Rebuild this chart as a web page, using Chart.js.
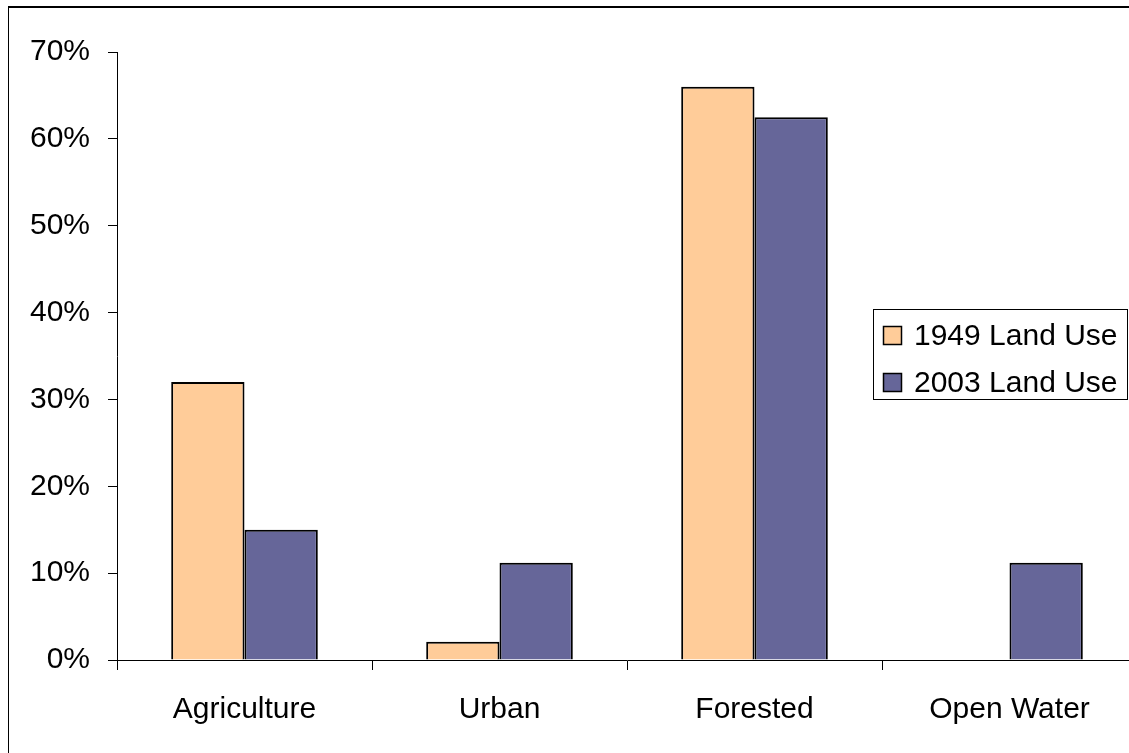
<!DOCTYPE html>
<html>
<head>
<meta charset="utf-8">
<title>Land Use 1949 vs 2003</title>
<script src="https://cdn.jsdelivr.net/npm/chart.js@4.4.1/dist/chart.umd.min.js"></script>
<style>
  html, body { margin: 0; padding: 0; background: #fff; overflow: hidden; }
  #wrap { position: relative; width: 1160px; height: 753px; }
</style>
</head>
<body>
<div id="wrap"><canvas id="chart" width="1160" height="753"></canvas></div>
<script>
// Land use shares by category (percent of total area)
const categories = ['Agriculture', 'Urban', 'Forested', 'Open Water'];
const landUse1949 = [32.0, 2.1, 66.0, 0];
const landUse2003 = [15.0, 11.2, 62.5, 11.2];
const seriesNames = ['1949 Land Use', '2003 Land Use'];
const yTicks = [0, 10, 20, 30, 40, 50, 60, 70];

const FONT = '"Liberation Sans", Arial, sans-serif';
const FONT_SIZE = 30;

// Outer frame around the whole figure
const framePlugin = {
  id: 'frame',
  beforeDraw(chart) {
    const ctx = chart.ctx;
    ctx.save();
    ctx.strokeStyle = '#000';
    ctx.lineWidth = 2;
    ctx.beginPath();
    ctx.moveTo(8, 7);
    ctx.lineTo(chart.width + 5, 7);
    ctx.stroke();
    ctx.lineWidth = 1;
    ctx.beginPath();
    ctx.moveTo(8.5, 6);
    ctx.lineTo(8.5, chart.height + 5);
    ctx.stroke();
    ctx.restore();
  }
};

// Boxed legend drawn from the dataset labels and colours
const boxLegendPlugin = {
  id: 'boxLegend',
  afterDraw(chart) {
    const ctx = chart.ctx;
    const box = { x: 873, y: 309, w: 254, h: 90 };
    ctx.save();
    ctx.fillStyle = '#fff';
    ctx.fillRect(box.x, box.y, box.w, box.h);
    ctx.strokeStyle = '#000';
    ctx.lineWidth = 1;
    ctx.strokeRect(box.x + 0.5, box.y + 0.5, box.w, box.h);
    ctx.font = FONT_SIZE + 'px ' + FONT;
    ctx.textBaseline = 'middle';
    ctx.textAlign = 'left';
    chart.data.datasets.forEach((ds, i) => {
      const cy = 335.5 + i * 47;
      ctx.fillStyle = ds.backgroundColor;
      ctx.fillRect(883, cy - 9.5, 19, 19);
      ctx.strokeStyle = '#000';
      ctx.lineWidth = 1.5;
      ctx.strokeRect(883.5, cy - 9, 18, 18);
      ctx.fillStyle = '#000';
      ctx.fillText(ds.label, 914, cy + 1);
    });
    ctx.restore();
  }
};

new Chart(document.getElementById('chart'), {
  type: 'bar',
  data: {
    labels: categories,
    datasets: [
      {
        label: seriesNames[0],
        data: landUse1949,
        backgroundColor: '#FFCC99',
        borderColor: '#000',
        borderWidth: 2
      },
      {
        label: seriesNames[1],
        data: landUse2003,
        backgroundColor: '#666699',
        borderColor: '#000',
        borderWidth: 2
      }
    ]
  },
  options: {
    responsive: false,
    animation: false,
    events: [],
    categoryPercentage: 0.575,
    barPercentage: 1.0,
    layout: { padding: { left: 0, top: 52, right: 23, bottom: 0 } },
    plugins: {
      legend: { display: false },
      tooltip: { enabled: false }
    },
    scales: {
      x: {
        offset: true,
        grid: {
          offset: true,
          drawOnChartArea: false,
          drawTicks: true,
          tickLength: 10,
          color: '#000',
          lineWidth: 1
        },
        border: { display: true, color: '#000', width: 1 },
        ticks: {
          color: '#000',
          padding: 22,
          maxRotation: 0,
          font: { family: FONT, size: FONT_SIZE }
        },
        afterFit(scale) { scale.height = 93; }
      },
      y: {
        min: 0,
        max: 70,
        afterBuildTicks(scale) {
          scale.ticks = yTicks.map(v => ({ value: v }));
        },
        grid: {
          drawOnChartArea: false,
          drawTicks: true,
          tickLength: 9,
          color: '#000',
          lineWidth: 1
        },
        border: { display: true, color: '#000', width: 1 },
        ticks: {
          color: '#000',
          padding: 18,
          font: { family: FONT, size: FONT_SIZE },
          callback: v => v + '%'
        },
        afterFit(scale) { scale.width = 117; }
      }
    }
  },
  plugins: [framePlugin, boxLegendPlugin]
});
</script>
</body>
</html>
